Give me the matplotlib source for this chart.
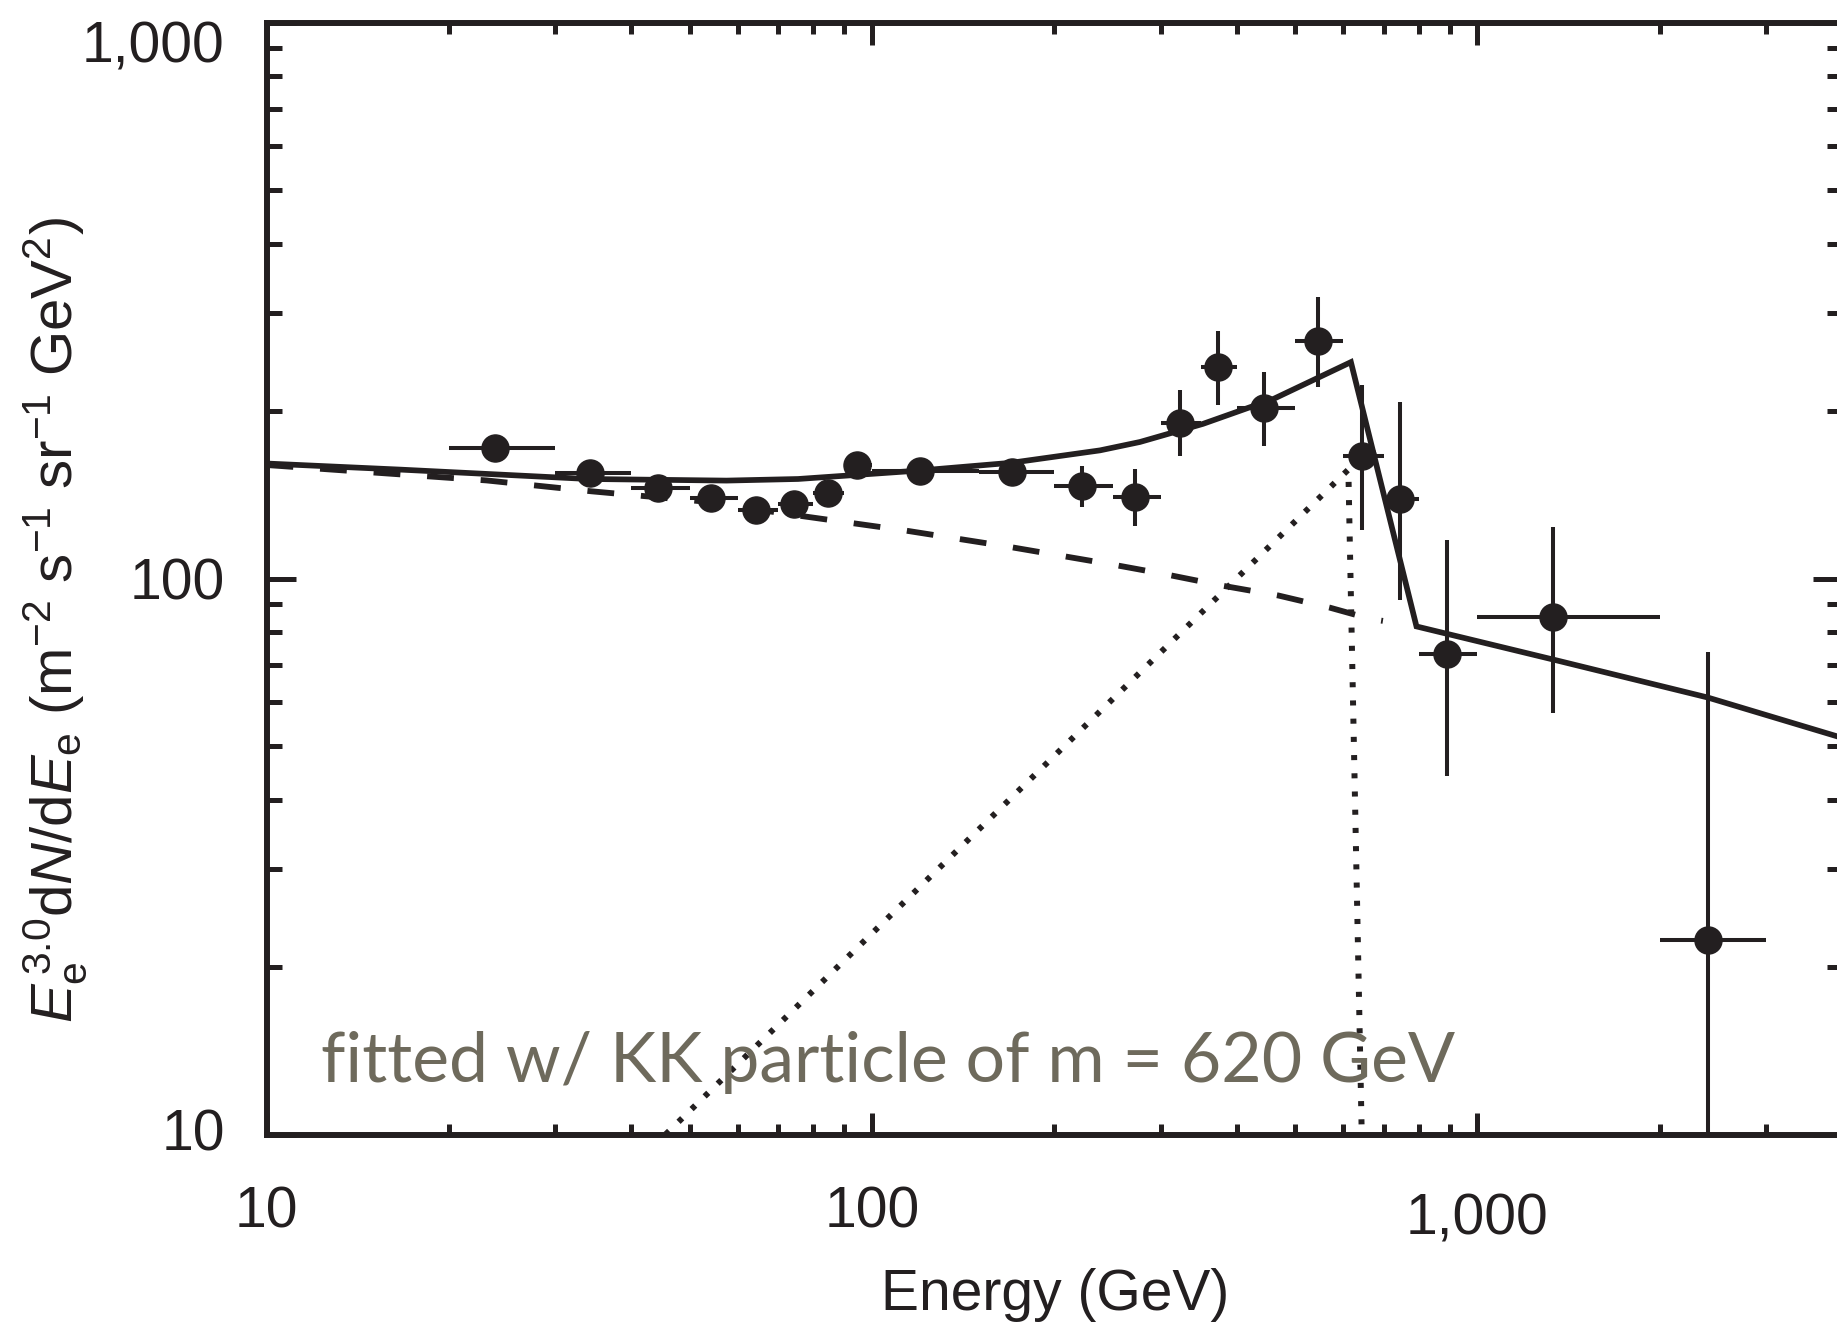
import matplotlib
matplotlib.use("Agg")
import numpy as np
import matplotlib.pyplot as plt
import matplotlib.transforms as mtransforms
from matplotlib.ticker import FixedLocator, FixedFormatter, NullFormatter

plt.rcParams['font.family'] = ['Liberation Sans', 'DejaVu Sans']
plt.rcParams['mathtext.fontset'] = 'custom'
plt.rcParams['mathtext.rm'] = 'Liberation Sans'
plt.rcParams['mathtext.it'] = 'Liberation Sans:italic'
plt.rcParams['mathtext.sf'] = 'Liberation Sans'

INK = '#231f20'
NOTE = '#6e6a5c'

# measured electron spectrum (E^3 dN/dE), bins in GeV
energy = [23.8, 34.2, 44.3, 54.3, 64.4, 74.4, 84.5, 94.3, 120, 170.4, 222.3,
          271.6, 322.5, 372.8, 443.4, 544.4, 645, 744.4, 889.3, 1331, 2399]
flux = [171.8, 154.6, 145.3, 139.7, 132.9, 135.9, 142.6, 160.3, 156.4, 155.2,
        146.8, 140.0, 190.5, 239.8, 202.4, 267.1, 165.9, 139.1, 73.0, 85.1, 22.4]
bin_lo = [20, 30, 40, 50, 60, 70, 80, 90, 100, 150, 200,
          250, 300, 350, 400, 500, 600, 700, 800, 1000, 2000]
bin_hi = [30, 40, 50, 60, 70, 80, 90, 100, 150, 200, 250,
          300, 350, 400, 500, 600, 700, 800, 1000, 2000, 3000]
flux_lo = [166, 149, 140, 134.5, 128, 131, 137.5, 154.5, 150.5, 149.5, 134.4,
           124.5, 166.3, 205.2, 173.4, 221.4, 122.3, 91.3, 44.2, 57.3, 5.0]
flux_hi = [178, 160.5, 151, 145, 138, 141, 148, 166.5, 162.5, 161, 159.6,
           157.4, 218.3, 279.1, 234.9, 320.4, 223.0, 208.0, 117.4, 124.0, 73.8]

# total fit (background + KK)
fit_e = [10, 16.6, 34, 57.5, 75.5, 120, 170, 238, 277, 352, 461, 618, 793,
         1333, 2399, 4000]
fit_f = [161, 157, 151, 150, 151, 156.4, 161.5, 170, 176, 189.7, 210.5, 245,
         82.0, 71.5, 61.1, 51.7]

# background only
bg_e = [10, 23.1, 34.4, 52.2, 75.5, 113.4, 167, 249, 302, 378.5, 469, 571,
        665, 698]
bg_f = [160, 150.1, 143.5, 137.7, 129.8, 122, 114.2, 106, 102, 97.1, 93.2,
        88.6, 84.6, 83.9]

# KK signal
kk_e = [45.6, 612, 644]
kk_f = [10, 157, 10]

fig = plt.figure(figsize=(18.37, 13.27), dpi=100)
ax = fig.add_axes([266.5 / 1837, 1 - 1134.5 / 1327,
                   (1842 - 266.5) / 1837, (1134.5 - 22.5) / 1327])
ax.set_xscale('log')
ax.set_yscale('log')
ax.set_xlim(10, 4000)
ax.set_ylim(10, 1000)

ax.plot(kk_e, kk_f, color=INK, lw=4.3, linestyle=(0, (0.85, 2.2)),
        dash_capstyle='butt', zorder=2)
ax.plot(bg_e, bg_f, color=INK, lw=4.2, linestyle=(0, (4.6, 4.6)),
        dash_capstyle='butt', zorder=2)
ax.plot(fit_e, fit_f, color=INK, lw=4.1, solid_joinstyle='miter', zorder=2)

e = np.array(energy)
f = np.array(flux)
ax.errorbar(e, f,
            xerr=[e - np.array(bin_lo), np.array(bin_hi) - e],
            yerr=[f - np.array(flux_lo), np.array(flux_hi) - f],
            fmt='o', color=INK, ms=19.5, elinewidth=2.9, capsize=0, zorder=3)

# axes frame and ticks
for s in ax.spines.values():
    s.set_linewidth(4.3)
    s.set_color(INK)

ax.xaxis.set_major_locator(FixedLocator([10, 100, 1000]))
ax.xaxis.set_major_formatter(FixedFormatter(['10', '100', '1,000']))
ax.xaxis.set_minor_locator(FixedLocator(
    [k * d for d in (10, 100) for k in range(2, 10)] + [2000, 3000]))
ax.xaxis.set_minor_formatter(NullFormatter())
ax.yaxis.set_major_locator(FixedLocator([10, 100, 1000]))
ax.yaxis.set_major_formatter(FixedFormatter(['10', '100', '1,000']))
ax.yaxis.set_minor_locator(FixedLocator(
    [k * d for d in (10, 100) for k in range(2, 10)]))
ax.yaxis.set_minor_formatter(NullFormatter())

ax.tick_params(axis='both', which='both', direction='in', colors=INK,
               top=True, right=True, width=3.6, labelsize=41)
ax.tick_params(axis='x', which='major', length=16, pad=37)
ax.tick_params(axis='x', which='minor', length=8)
ax.tick_params(axis='y', which='major', length=21, pad=30)
ax.tick_params(axis='y', which='minor', length=10.5)


def nudge(label, dy_pt):
    label.set_transform(label.get_transform() + mtransforms.ScaledTranslation(
        0, dy_pt / 72, fig.dpi_scale_trans))


ylabels = ax.get_yticklabels()
nudge(ylabels[0], 3.5)
nudge(ylabels[2], -14)
xlabels = ax.get_xticklabels()
nudge(xlabels[2], -5)

# axis titles
fig.text(1055.5 / 1837, 1 - 1310 / 1327, 'Energy (GeV)', fontsize=41,
         color=INK, ha='center', va='baseline')
ylab = fig.text(55 / 1837, 1 - 620 / 1327,
                r'$E_{\mathrm{e}}^{\,\mathrm{3.0}}$d$N$/d$E_{\mathrm{e}}$ '
                r'(m$^{-2}$ s$^{-1}$ sr$^{-1}$ GeV$^{2}$)',
                fontsize=42, color=INK, rotation=90, ha='center', va='center')

note = fig.text(321 / 1837, 1 - 1082 / 1327,
                'fitted w/ KK particle of m = 620 GeV',
                family=['Lato', 'DejaVu Sans'], fontsize=50, color=NOTE,
                ha='left', va='baseline')

# fit the note and y title to the lengths seen in the reference
fig.canvas.draw()
r = fig.canvas.get_renderer()
w = note.get_window_extent(r).width
note.set_fontsize(50 * 1134 / w)
h = ylab.get_window_extent(r).height
ylab.set_fontsize(42 * 807 / h)

fig.savefig('out.png', dpi=100)
